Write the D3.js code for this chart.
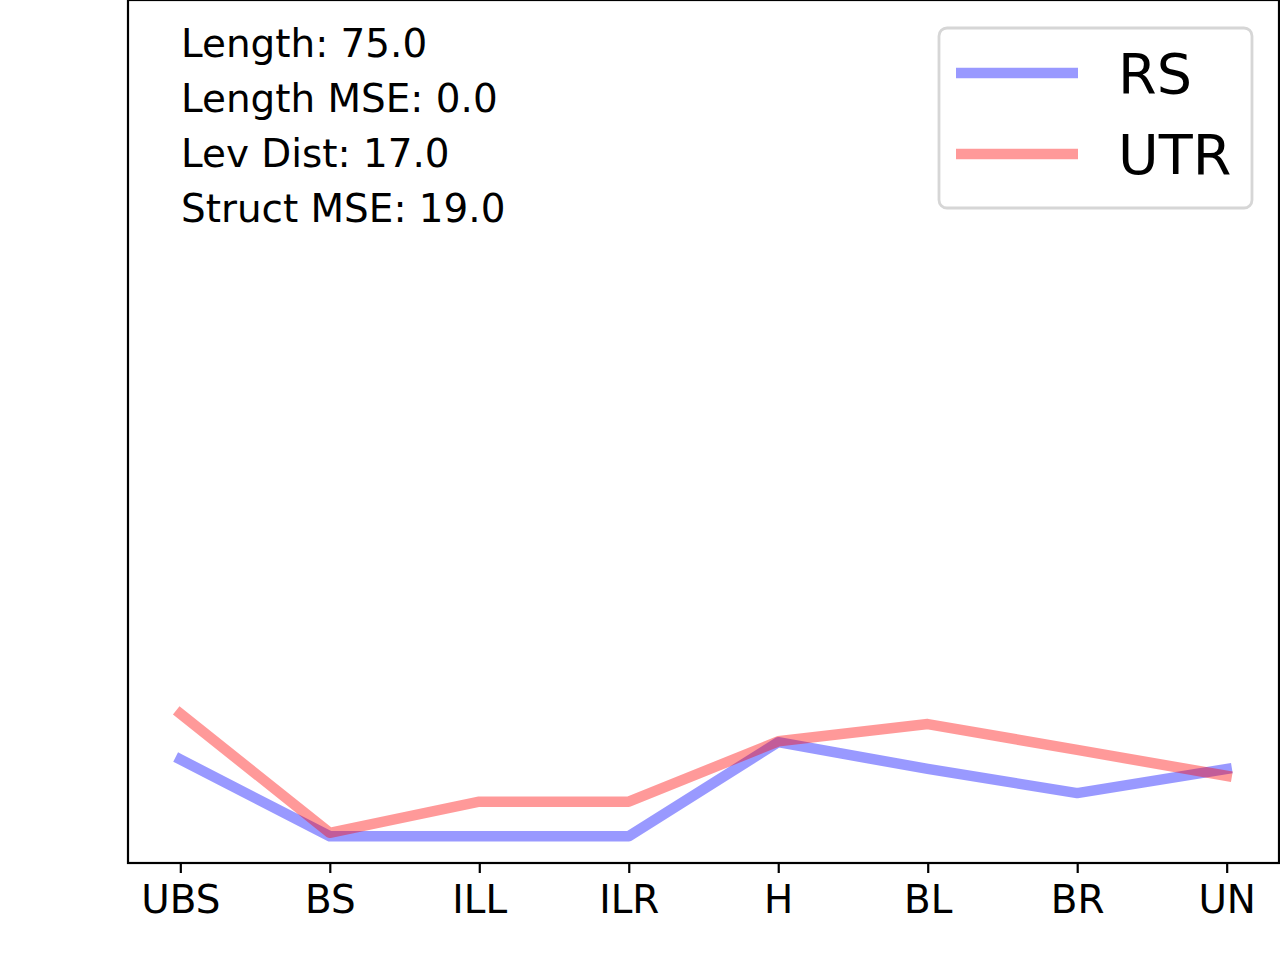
<!DOCTYPE html>
<html>
<head>
<meta charset="utf-8">
<script src="https://cdn.jsdelivr.net/npm/d3@7"></script>
<style>
  body { margin: 0; background: #fff; }
  text { font-family: "DejaVu Sans", sans-serif; }
</style>
</head>
<body>
<div id="chart"></div>
<script>

// categories along the x axis
var categories = ["UBS", "BS", "ILL", "ILR", "H", "BL", "BR", "UN"]

// series values (arbitrary 0-100 scale)
var rsValues  = [12.0, 3.1, 3.1, 3.1, 14.0, 10.9, 8.1, 10.9]
var utrValues = [17.3, 3.5, 7.1, 7.1, 14.1, 16.1, 13.1, 10.1]

var seriesNames = ["RS", "UTR"]
var seriesColors = ["blue", "red"]

// stats text in the top-left corner
var statLines = ["Length: 75.0", "Length MSE: 0.0", "Lev Dist: 17.0", "Struct MSE: 19.0"]

var yDomain = [0, 100]

/////////////////////////////// Layout ///////////////////////////////
var canvas = { width: 1280, height: 960 }
var margin = { top: 0, right: 1, bottom: 97, left: 128 }
var width = canvas.width - margin.left - margin.right
var height = canvas.height - margin.top - margin.bottom

var svg = d3.select("#chart").append("svg")
  .attr("width", canvas.width)
  .attr("height", canvas.height)

var g = svg.append("g")
  .attr("transform", "translate(" + margin.left + "," + margin.top + ")")

/////////////////////////////// Scales ///////////////////////////////
var xScale = d3.scalePoint()
  .domain(categories)
  .range([0, width])
  .padding(0.35)

var yScale = d3.scaleLinear()
  .domain(yDomain)
  .range([height, 0])

/////////////////////////////// Lines ////////////////////////////////
var series = [rsValues, utrValues].map(function(vals, i) {
  return {
    name: seriesNames[i],
    color: seriesColors[i],
    points: vals.map(function(v, j) { return { cat: categories[j], value: v } })
  }
})

var line = d3.line()
  .x(function(d) { return xScale(d.cat) })
  .y(function(d) { return yScale(d.value) })

g.selectAll(".series")
  .data(series)
  .enter().append("path")
    .attr("class", "series")
    .attr("d", function(d) { return line(d.points) })
    .attr("fill", "none")
    .attr("stroke", function(d) { return d.color })
    .attr("stroke-opacity", 0.4)
    .attr("stroke-width", 10.5)
    .attr("stroke-linejoin", "round")
    .attr("stroke-linecap", "square")

/////////////////////////////// Axes /////////////////////////////////
var xAxis = g.append("g")
  .attr("transform", "translate(0," + height + ")")
  .call(d3.axisBottom(xScale).tickSize(10).tickPadding(12))

xAxis.select(".domain").remove()
xAxis.selectAll(".tick line").attr("stroke", "#000").attr("stroke-width", 2.2)
xAxis.selectAll(".tick text")
  .attr("fill", "#000")
  .style("font-size", "38.9px")
  .style("font-family", "DejaVu Sans, sans-serif")

// frame (spines)
g.append("rect")
  .attr("x", 0)
  .attr("y", 0)
  .attr("width", width)
  .attr("height", height)
  .attr("fill", "none")
  .attr("stroke", "#000")
  .attr("stroke-width", 2.2)

/////////////////////////////// Stats text ///////////////////////////
g.selectAll(".stat")
  .data(statLines)
  .enter().append("text")
    .attr("class", "stat")
    .attr("x", 53)
    .attr("y", function(d, i) { return 57 + i * 55 })
    .style("font-size", "38.9px")
    .attr("fill", "#000")
    .text(function(d) { return d })

/////////////////////////////// Legend ///////////////////////////////
var legend = svg.append("g")
  .attr("transform", "translate(939,28)")

legend.append("rect")
  .attr("width", 313)
  .attr("height", 180)
  .attr("rx", 8)
  .attr("ry", 8)
  .attr("fill", "#fff")
  .attr("fill-opacity", 0.8)
  .attr("stroke", "#d6d6d6")
  .attr("stroke-width", 2.8)

var items = legend.selectAll(".item")
  .data(series)
  .enter().append("g")
    .attr("class", "item")
    .attr("transform", function(d, i) { return "translate(0," + (45 + i * 81) + ")" })

items.append("line")
  .attr("x1", 17)
  .attr("x2", 139)
  .attr("stroke", function(d) { return d.color })
  .attr("stroke-opacity", 0.4)
  .attr("stroke-width", 10.5)

items.append("text")
  .attr("x", 179)
  .attr("y", 20)
  .style("font-size", "55.6px")
  .attr("fill", "#000")
  .text(function(d) { return d.name })

</script>
</body>
</html>
